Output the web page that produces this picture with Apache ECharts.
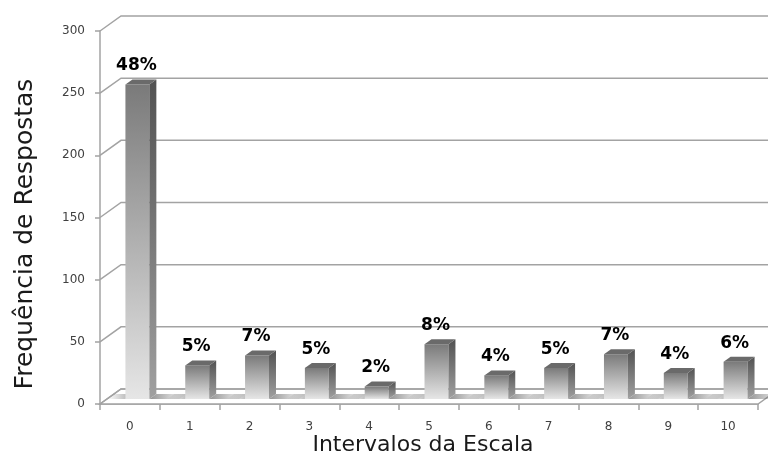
<!DOCTYPE html>
<html>
<head>
<meta charset="utf-8">
<title>Frequência de Respostas</title>
<script src="https://cdn.jsdelivr.net/npm/echarts@6/dist/echarts.min.js"></script>
<style>
  html, body { margin: 0; padding: 0; background: #ffffff; }
  #chart { width: 768px; height: 456px; }
</style>
</head>
<body>
<div id="chart"></div>
<script>
// Scale intervals and the number of answers given for each one
const categories = ['0', '1', '2', '3', '4', '5', '6', '7', '8', '9', '10'];
const responses = [253, 27, 35, 25, 10, 44, 19, 25, 36, 21, 30];
const yTicks = [0, 50, 100, 150, 200, 250, 300];

// Share of all answers, printed above each column
const total = responses.reduce((a, b) => a + b, 0);
const percentLabels = responses.map(v => Math.round(v / total * 100) + '%');

// Oblique projection used for the pseudo-3D look
const WALL_DX = 21, WALL_DY = -15;     // front plane -> back wall
const BAR_SHIFT_Y = -5;                // front face of the columns sits a little behind the front plane
const BAR_DX = 7, BAR_DY = -5;         // column depth
const LINE_COLOR = '#a3a3a3';
const FONT = '"DejaVu Sans", Verdana, sans-serif';

const LG = echarts.graphic.LinearGradient;

function renderFloor(params, api) {
  const cs = params.coordSys;
  const y = api.coord([0, 0])[1];
  const x0 = cs.x, x1 = cs.x + cs.width;
  return {
    type: 'polygon',
    silent: true,
    shape: { points: [[x0, y], [x1, y], [x1 + WALL_DX, y + WALL_DY], [x0 + WALL_DX, y + WALL_DY]] },
    style: { fill: '#ffffff', stroke: LINE_COLOR, lineWidth: 1.5 }
  };
}

function renderWallLine(params, api) {
  const cs = params.coordSys;
  const y = api.coord([0, api.value(1)])[1];
  const x0 = cs.x;
  return {
    type: 'polyline',
    silent: true,
    shape: { points: [[x0, y], [x0 + WALL_DX, y + WALL_DY], [cs.x + cs.width + 60, y + WALL_DY]] },
    style: { stroke: LINE_COLOR, lineWidth: 1.5, fill: null }
  };
}

function renderColumn(params, api) {
  const i = api.value(0);
  const v = api.value(1);
  const top = api.coord([i, v]);
  const base = api.coord([i, 0]);
  const band = api.size([1, 0])[0];
  const w = band * 0.4;
  const L = top[0] - band * 0.075;
  const R = L + w;
  const yT = top[1] + BAR_SHIFT_Y;
  const yB = base[1] + BAR_SHIFT_Y;
  return {
    type: 'group',
    children: [
      // soft floor shadows on both sides of the column
      {
        type: 'polygon',
        silent: true,
        shape: { points: [[L - 18, yB], [L, yB], [L + BAR_DX, yB + BAR_DY], [L - 18 + BAR_DX, yB + BAR_DY]] },
        style: { fill: new LG(0, 0, 1, 0, [{ offset: 0, color: 'rgba(110,110,110,0)' }, { offset: 1, color: 'rgba(110,110,110,0.6)' }]) }
      },
      {
        type: 'polygon',
        silent: true,
        shape: { points: [[R, yB], [R + 30, yB], [R + 30 + BAR_DX, yB + BAR_DY], [R + BAR_DX, yB + BAR_DY]] },
        style: { fill: new LG(0, 0, 1, 0, [{ offset: 0, color: 'rgba(100,100,100,0.7)' }, { offset: 1, color: 'rgba(100,100,100,0)' }]) }
      },
      // front face
      {
        type: 'rect',
        shape: { x: L, y: yT, width: w, height: yB - yT },
        style: { fill: new LG(0, 0, 0, 1, [{ offset: 0, color: '#7a7a7a' }, { offset: 1, color: '#e6e6e6' }]) }
      },
      // right side face
      {
        type: 'polygon',
        shape: { points: [[R, yT], [R + BAR_DX, yT + BAR_DY], [R + BAR_DX, yB + BAR_DY], [R, yB]] },
        style: { fill: new LG(0, 0, 0, 1, [{ offset: 0, color: '#525252' }, { offset: 1, color: '#a0a0a0' }]) }
      },
      // top face
      {
        type: 'polygon',
        shape: { points: [[L, yT], [R, yT], [R + BAR_DX, yT + BAR_DY], [L + BAR_DX, yT + BAR_DY]] },
        style: { fill: '#6a6a6a' }
      },
      // percentage label
      {
        type: 'text',
        silent: true,
        x: top[0] + 6.5,
        y: yT + BAR_DY - 5,
        style: {
          text: percentLabels[i],
          fill: '#000000',
          font: 'bold 17px ' + FONT,
          textAlign: 'center',
          textVerticalAlign: 'bottom'
        }
      }
    ]
  };
}

const chart = echarts.init(document.getElementById('chart'), null, { renderer: 'canvas' });

chart.setOption({
  backgroundColor: '#ffffff',
  animation: false,
  grid: { left: 100, top: 31, width: 658, height: 373, containLabel: false },
  xAxis: {
    type: 'category',
    data: categories,
    boundaryGap: true,
    axisLine: { show: true, lineStyle: { color: LINE_COLOR, width: 1.5 } },
    axisTick: { show: true, interval: 0, length: 6, lineStyle: { color: LINE_COLOR, width: 1.5 } },
    axisLabel: { color: '#404040', fontFamily: FONT, fontSize: 12, margin: 17, interval: 0 },
    splitLine: { show: false }
  },
  yAxis: {
    type: 'value',
    min: 0,
    max: 300,
    interval: 50,
    axisLine: { show: true, lineStyle: { color: LINE_COLOR, width: 1.5 } },
    axisTick: { show: true, length: 5, lineStyle: { color: LINE_COLOR, width: 1.5 } },
    axisLabel: { color: '#404040', fontFamily: FONT, fontSize: 12, margin: 15 },
    splitLine: { show: false }
  },
  series: [
    {
      type: 'custom',
      name: 'floor',
      renderItem: renderFloor,
      data: [[0, 0]],
      z: 1,
      silent: true
    },
    {
      type: 'custom',
      name: 'wall',
      renderItem: renderWallLine,
      data: yTicks.map(v => [0, v]),
      z: 2,
      silent: true
    },
    {
      type: 'custom',
      name: 'Respostas',
      renderItem: renderColumn,
      data: responses.map((v, i) => [i, v]),
      z: 3
    }
  ],
  graphic: [
    {
      type: 'text',
      x: 25,
      y: 234,
      rotation: Math.PI / 2,
      style: {
        text: 'Frequência de Respostas',
        fill: '#1a1a1a',
        font: '25px ' + FONT,
        textAlign: 'center',
        textVerticalAlign: 'middle'
      }
    },
    {
      type: 'text',
      x: 423,
      y: 445,
      style: {
        text: 'Intervalos da Escala',
        fill: '#1a1a1a',
        font: '22px ' + FONT,
        textAlign: 'center',
        textVerticalAlign: 'middle'
      }
    }
  ]
});
</script>
</body>
</html>
